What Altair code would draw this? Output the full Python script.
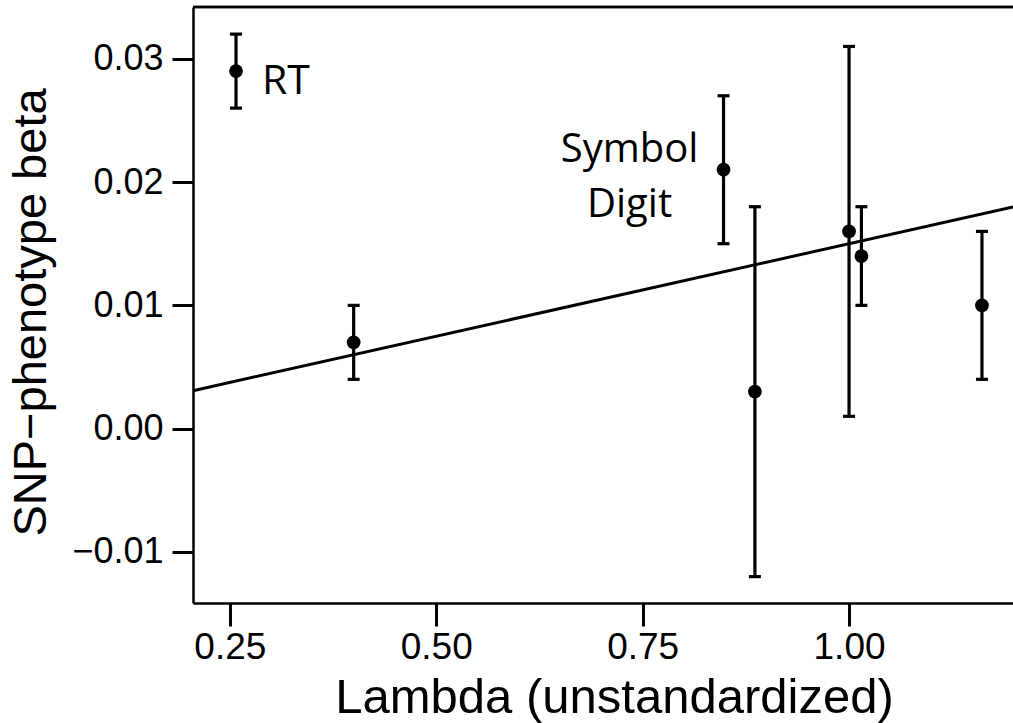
import altair as alt
import pandas as pd

# Lambda (unstandardized) vs SNP-phenotype beta, with 95% intervals
lam = [0.2575, 0.40, 0.848, 0.886, 1.000, 1.015, 1.161]
beta = [0.029, 0.007, 0.021, 0.003, 0.016, 0.014, 0.010]
beta_lo = [0.026, 0.004, 0.015, -0.012, 0.001, 0.010, 0.004]
beta_hi = [0.032, 0.010, 0.027, 0.018, 0.031, 0.018, 0.016]
labels = ["RT", "", "Symbol\nDigit", "", "", "", ""]

# fitted line: beta = intercept + slope * lambda
fit_intercept = 0.0
fit_slope = 0.015

x_domain = [0.2054, 1.1986]
y_domain = [-0.01414, 0.0342]
x_ticks = [0.25, 0.50, 0.75, 1.00]
y_ticks = [-0.01, 0.00, 0.01, 0.02, 0.03]

W, H = 820, 596

df = pd.DataFrame({"lam": lam, "beta": beta, "lo": beta_lo, "hi": beta_hi, "label": labels})
fit = pd.DataFrame({"lam": x_domain,
                    "beta": [fit_intercept + fit_slope * v for v in x_domain]})

x_enc = alt.X("lam:Q", scale=alt.Scale(domain=x_domain, nice=False, zero=False),
              axis=alt.Axis(values=x_ticks, format=".2f", title="Lambda (unstandardized)",
                            tickSize=23, labelPadding=3, labelFontSize=37,
                            titleFontSize=49, titleX=421, titleY=109,
                            titleBaseline="alphabetic", titleAlign="center",
                            titleFontWeight="normal"))
y_enc = alt.Y("beta:Q", scale=alt.Scale(domain=y_domain, nice=False, zero=False),
              axis=alt.Axis(values=y_ticks, format=".2f", title="SNP\u2212phenotype beta",
                            tickSize=21, labelPadding=9, labelFontSize=36,
                            titleFontSize=47, titleX=-148, titleY=305,
                            titleAngle=-90, titleBaseline="alphabetic",
                            titleAlign="center", titleFontWeight="normal"))

base = alt.Chart(df)
ebar_w = 3.2

bars = base.mark_rule(color="black", strokeWidth=ebar_w).encode(
    x=x_enc, y=alt.Y("lo:Q"), y2="hi:Q")
cap_lo = base.mark_rule(color="black", strokeWidth=ebar_w, xOffset=-6, x2Offset=6).encode(
    x="lam:Q", x2="lam:Q", y="lo:Q")
cap_hi = base.mark_rule(color="black", strokeWidth=ebar_w, xOffset=-6, x2Offset=6).encode(
    x="lam:Q", x2="lam:Q", y="hi:Q")
pts = base.mark_circle(color="black", opacity=1, size=190).encode(x="lam:Q", y=y_enc)

line = alt.Chart(fit).mark_line(color="black", strokeWidth=3).encode(x="lam:Q", y="beta:Q")

lab_rt = base.transform_filter(alt.datum.label == "RT").mark_text(
    align="left", baseline="alphabetic", dx=26, dy=23, font="Open Sans",
    fontSize=41, color="black").encode(x="lam:Q", y="beta:Q", text="label:N")
lab_sd = base.transform_filter(alt.datum.label == "Symbol\nDigit").mark_text(
    align="center", baseline="alphabetic", dx=-94, dy=-8, font="Open Sans",
    fontSize=40, lineHeight=55, lineBreak="\n", color="black").encode(
    x="lam:Q", y="beta:Q", text="label:N")

top_frame = alt.Chart(fit).mark_rule(color="black", strokeWidth=2.5).encode(
    x=alt.value(0), x2=alt.value(W), y=alt.value(0))

chart = alt.layer(line, bars, cap_lo, cap_hi, pts, lab_rt, lab_sd, top_frame).properties(
    width=W, height=H,
    autosize=alt.AutoSizeParams(type="none"),
    padding={"left": 193, "top": 7, "right": 0, "bottom": 120},
    background="white",
).configure_view(stroke=None).configure_axis(
    grid=False, domainColor="black", domainWidth=2.5, tickColor="black", tickWidth=3,
    labelColor="black", titleColor="black", labelFont="Liberation Sans",
    titleFont="Liberation Sans",
)

chart.save("out.html", embed_options={"renderer": "svg", "actions": False})
